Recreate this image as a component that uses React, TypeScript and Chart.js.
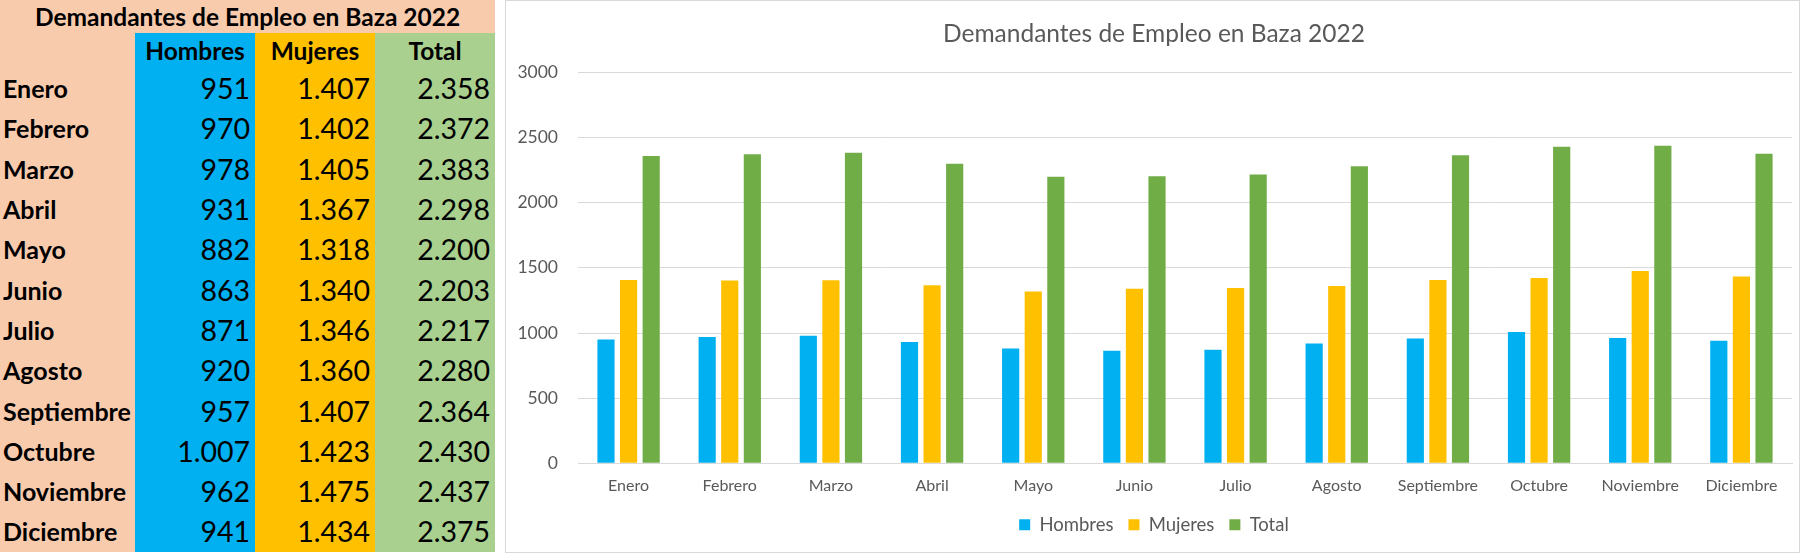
import React, { useEffect, useRef } from "react";
import { Chart, registerables } from "chart.js";

Chart.register(...registerables);

const months = ["Enero", "Febrero", "Marzo", "Abril", "Mayo", "Junio", "Julio", "Agosto", "Septiembre", "Octubre", "Noviembre", "Diciembre"];
const hombres = [951, 970, 978, 931, 882, 863, 871, 920, 957, 1007, 962, 941];
const mujeres = [1407, 1402, 1405, 1367, 1318, 1340, 1346, 1360, 1407, 1423, 1475, 1434];
const totales = [2358, 2372, 2383, 2298, 2200, 2203, 2217, 2280, 2364, 2430, 2437, 2375];
const seriesNames = ["Hombres", "Mujeres", "Total"];
const yTicks = [0, 500, 1000, 1500, 2000, 2500, 3000];
const title = "Demandantes de Empleo en Baza 2022";

const BLUE = "#00B0F0";
const YELLOW = "#FFC000";
const GREEN = "#70AD47";
const TGREEN = "#A9D08E";
const PEACH = "#F8CBAD";
const FONT = "Lato, 'Open Sans', sans-serif";

const fmt = (n: number) => n.toLocaleString("de-DE");

export default function App() {
  const ref = useRef<HTMLCanvasElement | null>(null);

  useEffect(() => {
    document.body.style.margin = "0";
    if (!ref.current) return;
    const chart = new Chart(ref.current, {
      type: "bar",
      data: {
        labels: months,
        datasets: [
          { label: seriesNames[0], data: hombres, backgroundColor: BLUE },
          { label: seriesNames[1], data: mujeres, backgroundColor: YELLOW },
          { label: seriesNames[2], data: totales, backgroundColor: GREEN },
        ],
      },
      options: {
        animation: false,
        responsive: false,
        maintainAspectRatio: false,
        layout: { padding: { left: 10, right: 7, top: 10, bottom: 8 } },
        datasets: { bar: { categoryPercentage: 0.67, barPercentage: 0.76 } },
        plugins: {
          title: {
            display: true,
            text: title,
            color: "#595959",
            font: { family: FONT, size: 24.5, weight: "normal" },
            padding: { top: 8, bottom: 24 },
          },
          legend: {
            position: "bottom",
            labels: {
              color: "#595959",
              font: { family: FONT, size: 18.5 },
              boxWidth: 11,
              boxHeight: 11,
              padding: 15,
            },
          },
          tooltip: { enabled: false },
        },
        scales: {
          x: {
            grid: { display: false },
            border: { color: "#D9D9D9" },
            ticks: { color: "#595959", font: { family: FONT, size: 16 }, padding: 5 },
          },
          y: {
            min: 0,
            max: 3000,
            afterBuildTicks: (axis: any) => {
              axis.ticks = yTicks.map((v) => ({ value: v }));
            },
            afterFit: (axis: any) => {
              axis.width = 62;
            },
            grid: { color: "#D9D9D9", drawTicks: false },
            border: { display: false },
            ticks: {
              color: "#595959",
              font: { family: FONT, size: 17.5 },
              padding: 20,
              callback: (v: any) => String(v),
            },
          },
        },
      },
    } as any);
    return () => chart.destroy();
  }, []);

  const cell: React.CSSProperties = {
    padding: "0 5px 0 0",
    height: 40.3,
    boxSizing: "border-box",
    whiteSpace: "nowrap",
  };
  const head: React.CSSProperties = { textAlign: "center", fontWeight: "bold", fontSize: 24.5, padding: 0 };

  return (
    <div style={{ position: "fixed", left: 0, top: 0, width: 1800, height: 555, background: "#fff", fontFamily: FONT, overflow: "hidden" }}>
      <table
        style={{
          position: "absolute",
          left: 0,
          top: 0,
          width: 495,
          borderCollapse: "collapse",
          tableLayout: "fixed",
          color: "#000",
        }}
      >
        <colgroup>
          <col style={{ width: 135 }} />
          <col style={{ width: 120 }} />
          <col style={{ width: 120 }} />
          <col style={{ width: 120 }} />
        </colgroup>
        <tbody>
          <tr>
            <td colSpan={4} style={{ ...head, background: PEACH, height: 33 }}>
              {title}
            </td>
          </tr>
          <tr>
            <td style={{ background: PEACH, height: 35, padding: 0 }}></td>
            <td style={{ ...head, background: BLUE }}>{seriesNames[0]}</td>
            <td style={{ ...head, background: YELLOW }}>{seriesNames[1]}</td>
            <td style={{ ...head, background: TGREEN }}>{seriesNames[2]}</td>
          </tr>
          {months.map((m, i) => (
            <tr key={m}>
              <td style={{ ...cell, background: PEACH, fontWeight: "bold", fontSize: 25, padding: "0 0 0 3px" }}>{m}</td>
              <td style={{ ...cell, background: BLUE, textAlign: "right", fontSize: 28.5 }}>{fmt(hombres[i])}</td>
              <td style={{ ...cell, background: YELLOW, textAlign: "right", fontSize: 28.5 }}>{fmt(mujeres[i])}</td>
              <td style={{ ...cell, background: TGREEN, textAlign: "right", fontSize: 28.5 }}>{fmt(totales[i])}</td>
            </tr>
          ))}
        </tbody>
      </table>
      <div
        style={{
          position: "absolute",
          left: 505,
          top: 0,
          width: 1293,
          height: 551,
          border: "1px solid #D9D9D9",
          background: "#fff",
        }}
      >
        <canvas ref={ref} width={1293} height={551} style={{ display: "block" }} />
      </div>
    </div>
  );
}
